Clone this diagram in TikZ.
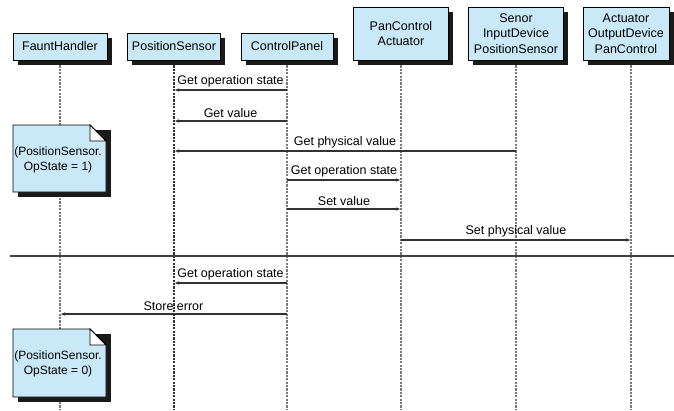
\documentclass[tikz,border=0pt]{standalone}
\usepackage{fontspec}
\setmainfont{Liberation Sans}
\usetikzlibrary{arrows.meta,shadows}
\definecolor{boxblue}{HTML}{C9E9F8}
\definecolor{lifegray}{HTML}{7A7A7A}
\definecolor{shadowcol}{HTML}{1A1A1A}
\tikzset{
  objbox/.style={draw=black, line width=0.9pt, fill=boxblue, align=center,
    inner sep=1pt, font=\fontsize{12.5}{15.5}\selectfont,
    drop shadow={shadow xshift=4.5pt, shadow yshift=-4.5pt, fill=shadowcol, opacity=1}},
  lifeline/.style={draw=lifegray, line width=1.1pt, dash pattern=on 2.2pt off 1.2pt},
  lifelinedark/.style={draw=black!80, line width=1.1pt, dash pattern=on 2.2pt off 1.2pt},
  msg/.style={draw=black!80, line width=1.2pt, -{Latex[length=5pt,width=3.5pt]}},
  msglabel/.style={midway, above, inner sep=2.5pt, font=\fontsize{12.5}{14}\selectfont},
  notebody/.style={draw=black, line width=0.9pt, fill=boxblue},
  noteshadow/.style={fill=shadowcol},
  notetext/.style={align=center, inner sep=0pt, font=\fontsize{12}{14.5}\selectfont},
  separator/.style={draw=black!75, line width=1.8pt}
}
\begin{document}
\begin{tikzpicture}[x=1pt,y=-1pt]
\useasboundingbox (0,0) rectangle (674,410);
% lifeline ends
\coordinate (fhE) at (60,410);
\coordinate (psE) at (174,410);
\coordinate (cpE) at (287,410);
\coordinate (pcE) at (401,410);
\coordinate (seE) at (516,410);
\coordinate (acE) at (631,410);
% lifeline tops
\coordinate (fhT) at (60,62);
\coordinate (psT) at (174,62);
\coordinate (cpT) at (287,62);
\coordinate (pcT) at (401,62);
\coordinate (seT) at (516,62);
\coordinate (acT) at (631,62);
\draw[lifeline] (fhT) -- (fhE);
\draw[lifelinedark] (psT) -- (psE);
\draw[lifeline] (cpT) -- (cpE);
\draw[lifeline] (pcT) -- (pcE);
\draw[lifeline] (seT) -- (seE);
\draw[lifeline] (acT) -- (acE);
% object boxes
\node[objbox, minimum width=94pt, minimum height=27pt] (fh) at (60,46.5) {FauntHandler};
\node[objbox, minimum width=93pt, minimum height=27pt] (ps) at (174,46.5) {PositionSensor};
\node[objbox, minimum width=92pt, minimum height=27pt] (cp) at (287,46.5) {ControlPanel};
\node[objbox, minimum width=95pt, minimum height=53pt] (pc) at (401,33.5) {PanControl\\Actuator};
\node[objbox, minimum width=95pt, minimum height=53pt] (se) at (516,33.5) {Senor\\InputDevice\\PositionSensor};
\node[objbox, minimum width=86pt, minimum height=53pt] (ac) at (626,33.5) {Actuator\\OutputDevice\\PanControl};
% messages
\draw[msg] (cpE |- 0,90) -- node[msglabel] {Get operation state} (psE |- 0,90);
\draw[msg] (cpE |- 0,121) -- node[msglabel] {Get value} (psE |- 0,121);
\draw[msg] (seE |- 0,151) -- node[msglabel] {Get physical value} (psE |- 0,151);
\draw[msg] (cpE |- 0,180) -- node[msglabel] {Get operation state} (pcE |- 0,180);
\draw[msg] (cpE |- 0,209) -- node[msglabel] {Set value} (pcE |- 0,209);
\draw[msg] (pcE |- 0,240) -- node[msglabel] {Set physical value} (acE |- 0,240);
% separator
\coordinate (sepL) at (10,256);
\coordinate (sepR) at (674,256);
\draw[separator] (sepL) -- (sepR);
\draw[msg] (cpE |- 0,283) -- node[msglabel] {Get operation state} (psE |- 0,283);
\draw[msg] (cpE |- 0,314) -- node[msglabel] {Store error} (fhE |- 0,314);
% note 1
\fill[noteshadow] (17.5,129.5) -- (110.5,129.5) -- (110.5,196.5) -- (17.5,196.5) -- cycle;
\draw[notebody] (13,125) -- (90,125) -- (106,141) -- (106,192) -- (13,192) -- cycle;
\draw[line width=0.9pt, fill=white] (90,125) -- (90,141) -- (106,141) -- cycle;
\node[notetext] (n1) at (58,160) {(PositionSensor.\\OpState = 1)};
% note 2
\fill[noteshadow] (17.5,333.5) -- (110.5,333.5) -- (110.5,401.5) -- (17.5,401.5) -- cycle;
\draw[notebody] (13,329) -- (90,329) -- (106,345) -- (106,397) -- (13,397) -- cycle;
\draw[line width=0.9pt, fill=white] (90,329) -- (90,345) -- (106,345) -- cycle;
\node[notetext] (n2) at (58,364) {(PositionSensor.\\OpState = 0)};
\end{tikzpicture}
\end{document}
